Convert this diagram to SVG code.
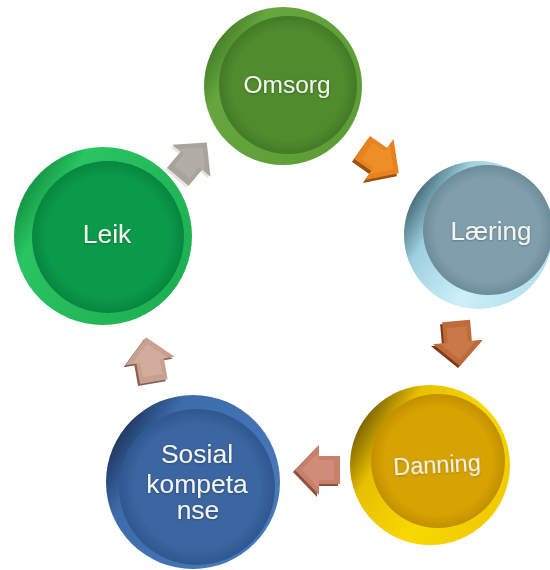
<svg xmlns="http://www.w3.org/2000/svg" xmlns:xlink="http://www.w3.org/1999/xlink" width="550" height="570" viewBox="0 0 550 570">
<style>
.lbl{font-family:"Liberation Sans",Arial,sans-serif;fill:#f4f4ee;text-anchor:middle;filter:url(#ts)}
</style>
<defs>
<filter id="ts" x="-20%" y="-20%" width="140%" height="140%"><feDropShadow dx="0" dy="0.6" stdDeviation="0.8" flood-color="#000" flood-opacity="0.35"/></filter>
<path id="arrow" d="M-22,-14 L-1,-14 L-1,-25 L23,0 L-1,25 L-1,14 L-22,14 Z"/>
<linearGradient id="rimO" x1="0" y1="0.2" x2="1" y2="0.8"><stop offset="0" stop-color="#37701e"/><stop offset="0.22" stop-color="#66a63e"/><stop offset="1" stop-color="#5c9c36"/></linearGradient>
<radialGradient id="faceO" cx="0.5" cy="0.5" r="0.5"><stop offset="0.8" stop-color="#508c2e"/><stop offset="1" stop-color="#437a26"/></radialGradient>
<linearGradient id="rimL" x1="0" y1="0.2" x2="1" y2="0.8"><stop offset="0" stop-color="#0a8038"/><stop offset="0.22" stop-color="#2ac462"/><stop offset="1" stop-color="#1cae50"/></linearGradient>
<radialGradient id="faceL" cx="0.5" cy="0.5" r="0.5"><stop offset="0.8" stop-color="#0b9a4a"/><stop offset="1" stop-color="#078640"/></radialGradient>
<linearGradient id="rimA" x1="0" y1="0.2" x2="1" y2="0.8"><stop offset="0" stop-color="#2a4a56"/><stop offset="0.25" stop-color="#9ed0e0"/><stop offset="0.6" stop-color="#cdeff8"/><stop offset="1" stop-color="#b2deec"/></linearGradient>
<radialGradient id="faceA" cx="0.5" cy="0.5" r="0.5"><stop offset="0.8" stop-color="#7f9fad"/><stop offset="1" stop-color="#6c8c9a"/></radialGradient>
<linearGradient id="rimD" x1="0" y1="0.2" x2="1" y2="0.8"><stop offset="0" stop-color="#5a4400"/><stop offset="0.25" stop-color="#e8c000"/><stop offset="0.6" stop-color="#f8d800"/><stop offset="1" stop-color="#f0c800"/></linearGradient>
<radialGradient id="faceD" cx="0.5" cy="0.5" r="0.5"><stop offset="0.8" stop-color="#d6a300"/><stop offset="1" stop-color="#c39000"/></radialGradient>
<linearGradient id="rimS" x1="0" y1="0.2" x2="1" y2="0.8"><stop offset="0" stop-color="#14264a"/><stop offset="0.25" stop-color="#3d6cab"/><stop offset="1" stop-color="#4a7aba"/></linearGradient>
<radialGradient id="faceS" cx="0.5" cy="0.5" r="0.5"><stop offset="0.8" stop-color="#3b66a1"/><stop offset="1" stop-color="#2f5790"/></radialGradient>
</defs>
<rect width="550" height="570" fill="#ffffff"/>

<g id="connectors">
  <g id="arrow-omsorg-laering">
    <g transform="translate(378,163) rotate(35)"><use href="#arrow" fill="#9a5210"/></g>
    <g transform="translate(380,160) rotate(35)"><use href="#arrow" fill="#e8821e"/><use href="#arrow" transform="scale(0.72)" fill="#ee8e28"/></g>
  </g>
  <g id="arrow-laering-danning">
    <g transform="translate(456,345) rotate(85)"><use href="#arrow" fill="#7a3c1a"/></g>
    <g transform="translate(458,343) rotate(85)"><use href="#arrow" fill="#c06a3a"/><use href="#arrow" transform="scale(0.72)" fill="#ca7848"/></g>
  </g>
  <g id="arrow-danning-sosial">
    <g transform="translate(316,472) rotate(180)"><use href="#arrow" fill="#8a5040"/></g>
    <g transform="translate(318,470) rotate(180)"><use href="#arrow" fill="#c8806a"/><use href="#arrow" transform="scale(0.72)" fill="#d08c78"/></g>
  </g>
  <g id="arrow-sosial-leik">
    <g transform="translate(148,362) rotate(-100)"><use href="#arrow" fill="#8a6050"/></g>
    <g transform="translate(150,360) rotate(-100)"><use href="#arrow" fill="#c8a090"/><use href="#arrow" transform="scale(0.72)" fill="#d2ac9c"/></g>
  </g>
  <g id="arrow-leik-omsorg">
    <g transform="translate(190,162) rotate(-50)"><use href="#arrow" fill="#e6e4de"/></g>
    <g transform="translate(192,160) rotate(-50)"><use href="#arrow" fill="#a8a49a"/><use href="#arrow" transform="scale(0.72)" fill="#b2aea4"/></g>
  </g>
</g>

<g id="node-omsorg">
  <circle cx="283" cy="86" r="79" fill="url(#rimO)"/>
  <circle cx="288" cy="85" r="69" fill="url(#faceO)"/>
  <text class="lbl" x="287" y="93" font-size="24.5">Omsorg</text>
</g>
<g id="node-laering">
  <circle cx="478" cy="235" r="74" fill="url(#rimA)"/>
  <circle cx="488" cy="230" r="65" fill="url(#faceA)"/>
  <text class="lbl" x="491" y="240" font-size="26">Læring</text>
</g>
<g id="node-danning">
  <circle cx="430" cy="465" r="80" fill="url(#rimD)"/>
  <circle cx="438" cy="461" r="67" fill="url(#faceD)"/>
  <text class="lbl" x="437" y="473" font-size="23.5" transform="rotate(-3 437 465)">Danning</text>
</g>
<g id="node-sosial">
  <circle cx="193" cy="482" r="87" fill="url(#rimS)"/>
  <circle cx="197" cy="487" r="78" fill="url(#faceS)"/>
  <text class="lbl" font-size="26.5"><tspan x="197" y="463">Sosial</tspan><tspan x="197" y="493">kompeta</tspan><tspan x="198" y="519">nse</tspan></text>
</g>
<g id="node-leik">
  <circle cx="103" cy="236" r="89" fill="url(#rimL)"/>
  <circle cx="108" cy="237" r="76" fill="url(#faceL)"/>
  <text class="lbl" x="107" y="243" font-size="26.5">Leik</text>
</g>
</svg>
